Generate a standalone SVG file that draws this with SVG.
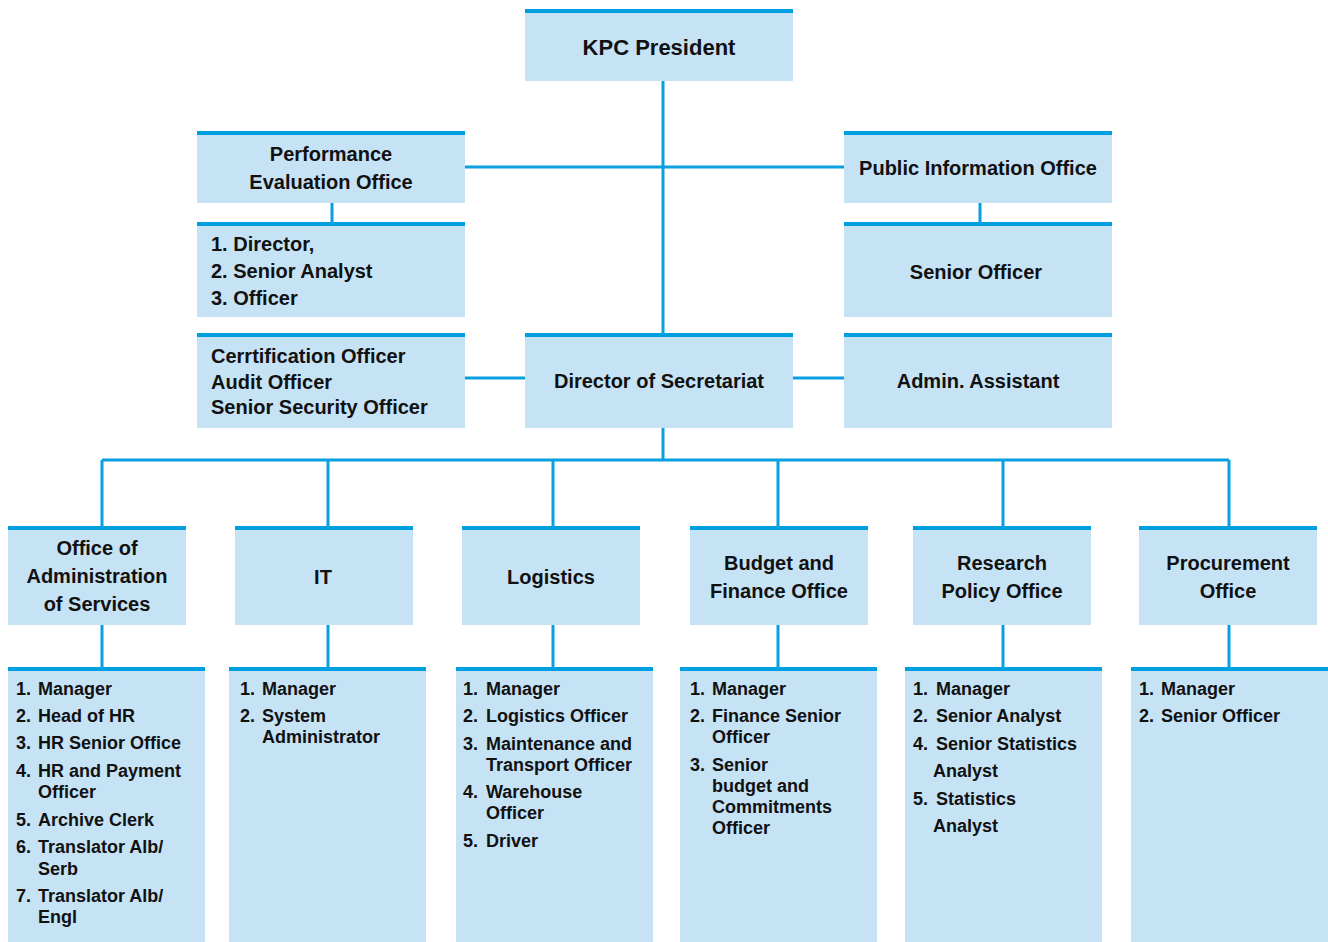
<svg xmlns="http://www.w3.org/2000/svg" width="1328" height="942" viewBox="0 0 1328 942">
<style>
.box{fill:#c6e3f6}
.bar{fill:#009fe0}
.ln{stroke:#0a9fe0;stroke-width:3;fill:none}
text{font-family:"Liberation Sans",Arial,sans-serif;font-weight:bold;fill:#111}
.h{font-size:20px;text-anchor:middle}
.t{font-size:22px;text-anchor:middle}
.l{font-size:20px}
.s{font-size:18px}
</style>
<rect width="1328" height="942" fill="#fff"/>
<g id="connectors">
<path class="ln" d="M663 81V333M465 167H844M332 203V222M980 203V222M465 378H525M793 378H844M663 428V460M102 460H1229M102 460V526M328 460V526M553 460V526M778 460V526M1003 460V526M1229 460V526M102 625V667M328 625V667M553 625V667M778 625V667M1003 625V667M1229 625V667"/>
</g>
<g id="president"><rect class="box" x="525" y="9" width="268" height="72"/><rect class="bar" x="525" y="9" width="268" height="4"/><text class="t" x="659" y="55">KPC President</text></g>
<g id="perf"><rect class="box" x="197" y="131" width="268" height="72"/><rect class="bar" x="197" y="131" width="268" height="4"/><text class="h" x="331" y="161">Performance</text><text class="h" x="331" y="189">Evaluation Office</text></g>
<g id="perf-list"><rect class="box" x="197" y="222" width="268" height="95"/><rect class="bar" x="197" y="222" width="268" height="4"/><text class="l" x="211" y="251">1. Director,</text><text class="l" x="211" y="278">2. Senior Analyst</text><text class="l" x="211" y="305">3. Officer</text></g>
<g id="cert"><rect class="box" x="197" y="333" width="268" height="95"/><rect class="bar" x="197" y="333" width="268" height="4"/><text class="l" x="211" y="363">Cerrtification Officer</text><text class="l" x="211" y="389">Audit Officer</text><text class="l" x="211" y="414">Senior Security Officer</text></g>
<g id="pio"><rect class="box" x="844" y="131" width="268" height="72"/><rect class="bar" x="844" y="131" width="268" height="4"/><text class="h" x="978" y="175">Public Information Office</text></g>
<g id="pio-senior"><rect class="box" x="844" y="222" width="268" height="95"/><rect class="bar" x="844" y="222" width="268" height="4"/><text class="h" x="976" y="279">Senior Officer</text></g>
<g id="director"><rect class="box" x="525" y="333" width="268" height="95"/><rect class="bar" x="525" y="333" width="268" height="4"/><text class="h" x="659" y="388">Director of Secretariat</text></g>
<g id="admin"><rect class="box" x="844" y="333" width="268" height="95"/><rect class="bar" x="844" y="333" width="268" height="4"/><text class="h" x="978" y="388">Admin. Assistant</text></g>

<g id="oas"><rect class="box" x="8" y="526" width="178" height="99"/><rect class="bar" x="8" y="526" width="178" height="4"/><text class="h" x="97" y="555">Office of</text><text class="h" x="97" y="583">Administration</text><text class="h" x="97" y="611">of Services</text></g>
<g id="it"><rect class="box" x="235" y="526" width="178" height="99"/><rect class="bar" x="235" y="526" width="178" height="4"/><text class="h" x="323" y="584">IT</text></g>
<g id="logistics"><rect class="box" x="462" y="526" width="178" height="99"/><rect class="bar" x="462" y="526" width="178" height="4"/><text class="h" x="551" y="584">Logistics</text></g>
<g id="budget"><rect class="box" x="690" y="526" width="178" height="99"/><rect class="bar" x="690" y="526" width="178" height="4"/><text class="h" x="779" y="570">Budget and</text><text class="h" x="779" y="598">Finance Office</text></g>
<g id="research"><rect class="box" x="913" y="526" width="178" height="99"/><rect class="bar" x="913" y="526" width="178" height="4"/><text class="h" x="1002" y="570">Research</text><text class="h" x="1002" y="598">Policy Office</text></g>
<g id="procurement"><rect class="box" x="1139" y="526" width="178" height="99"/><rect class="bar" x="1139" y="526" width="178" height="4"/><text class="h" x="1228" y="570">Procurement</text><text class="h" x="1228" y="598">Office</text></g>

<g id="oas-list"><rect class="box" x="8" y="667" width="197" height="275"/><rect class="bar" x="8" y="667" width="197" height="4"/>
<text class="s" x="16" y="695">1.</text><text class="s" x="38" y="695">Manager</text>
<text class="s" x="16" y="722">2.</text><text class="s" x="38" y="722">Head of HR</text>
<text class="s" x="16" y="749">3.</text><text class="s" x="38" y="749">HR Senior Office</text>
<text class="s" x="16" y="777">4.</text><text class="s" x="38" y="777">HR and Payment</text><text class="s" x="38" y="798">Officer</text>
<text class="s" x="16" y="826">5.</text><text class="s" x="38" y="826">Archive Clerk</text>
<text class="s" x="16" y="853">6.</text><text class="s" x="38" y="853">Translator Alb/</text><text class="s" x="38" y="875">Serb</text>
<text class="s" x="16" y="902">7.</text><text class="s" x="38" y="902">Translator Alb/</text><text class="s" x="38" y="923">Engl</text>
</g>
<g id="it-list"><rect class="box" x="229" y="667" width="197" height="275"/><rect class="bar" x="229" y="667" width="197" height="4"/>
<text class="s" x="240" y="695">1.</text><text class="s" x="262" y="695">Manager</text>
<text class="s" x="240" y="722">2.</text><text class="s" x="262" y="722">System</text><text class="s" x="262" y="743">Administrator</text>
</g>
<g id="logistics-list"><rect class="box" x="456" y="667" width="197" height="275"/><rect class="bar" x="456" y="667" width="197" height="4"/>
<text class="s" x="463" y="695">1.</text><text class="s" x="486" y="695">Manager</text>
<text class="s" x="463" y="722">2.</text><text class="s" x="486" y="722">Logistics Officer</text>
<text class="s" x="463" y="750">3.</text><text class="s" x="486" y="750">Maintenance and</text><text class="s" x="486" y="771">Transport Officer</text>
<text class="s" x="463" y="798">4.</text><text class="s" x="486" y="798">Warehouse</text><text class="s" x="486" y="819">Officer</text>
<text class="s" x="463" y="847">5.</text><text class="s" x="486" y="847">Driver</text>
</g>
<g id="budget-list"><rect class="box" x="680" y="667" width="197" height="275"/><rect class="bar" x="680" y="667" width="197" height="4"/>
<text class="s" x="690" y="695">1.</text><text class="s" x="712" y="695">Manager</text>
<text class="s" x="690" y="722">2.</text><text class="s" x="712" y="722">Finance Senior</text><text class="s" x="712" y="743">Officer</text>
<text class="s" x="690" y="771">3.</text><text class="s" x="712" y="771">Senior</text><text class="s" x="712" y="792">budget and</text><text class="s" x="712" y="813">Commitments</text><text class="s" x="712" y="834">Officer</text>
</g>
<g id="research-list"><rect class="box" x="905" y="667" width="197" height="275"/><rect class="bar" x="905" y="667" width="197" height="4"/>
<text class="s" x="913" y="695">1.</text><text class="s" x="936" y="695">Manager</text>
<text class="s" x="913" y="722">2.</text><text class="s" x="936" y="722">Senior Analyst</text>
<text class="s" x="913" y="750">4.</text><text class="s" x="936" y="750">Senior Statistics</text><text class="s" x="933" y="777">Analyst</text>
<text class="s" x="913" y="805">5.</text><text class="s" x="936" y="805">Statistics</text><text class="s" x="933" y="832">Analyst</text>
</g>
<g id="procurement-list"><rect class="box" x="1131" y="667" width="197" height="275"/><rect class="bar" x="1131" y="667" width="197" height="4"/>
<text class="s" x="1139" y="695">1.</text><text class="s" x="1161" y="695">Manager</text>
<text class="s" x="1139" y="722">2.</text><text class="s" x="1161" y="722">Senior Officer</text>
</g>
</svg>
